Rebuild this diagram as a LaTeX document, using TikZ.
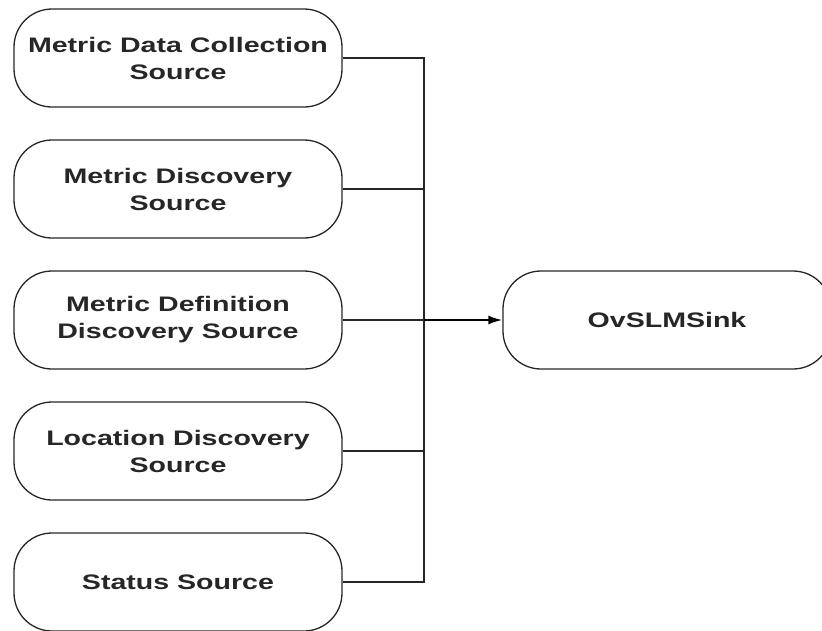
\documentclass[tikz,border=0pt]{standalone}
\usepackage{fontspec}
\setmainfont[FakeStretch=1.36]{Liberation Sans}
\usetikzlibrary{arrows.meta}
\begin{document}
\begin{tikzpicture}[x=1pt,y=-1pt,
  srcbox/.style={draw=black!85, line width=1.3pt, rounded corners=38pt,
    minimum width=328pt, minimum height=98pt, inner sep=0pt, align=center,
    font=\fontsize{21}{27}\selectfont\bfseries, text=black!85},
  wire/.style={draw=black!85, line width=1.3pt},
  arrowwire/.style={draw=black, line width=2pt, -{Latex[length=14pt,width=9pt]}}]
\useasboundingbox (0,0) rectangle (822,630);
\node[srcbox] (b1) at (178,58) {Metric Data Collection\\Source};
\node[srcbox] (b2) at (178,189) {Metric Discovery\\Source};
\node[srcbox] (b3) at (178,320) {Metric Definition\\Discovery Source};
\node[srcbox] (b4) at (178,451) {Location Discovery\\Source};
\node[srcbox] (b5) at (178,582) {Status Source};
\node[srcbox] (sink) at (667,320) {OvSLMSink};
\coordinate (j) at (424,320);
\draw[wire] (b1.east) -| (j);
\draw[wire] (b5.east) -| (j);
\draw[wire] (b2.east) -- (b2.east -| j);
\draw[wire] (b4.east) -- (b4.east -| j);
\draw[wire] (b3.east) -- (j);
\draw[arrowwire] (j) -- (sink.west);
\end{tikzpicture}
\end{document}
